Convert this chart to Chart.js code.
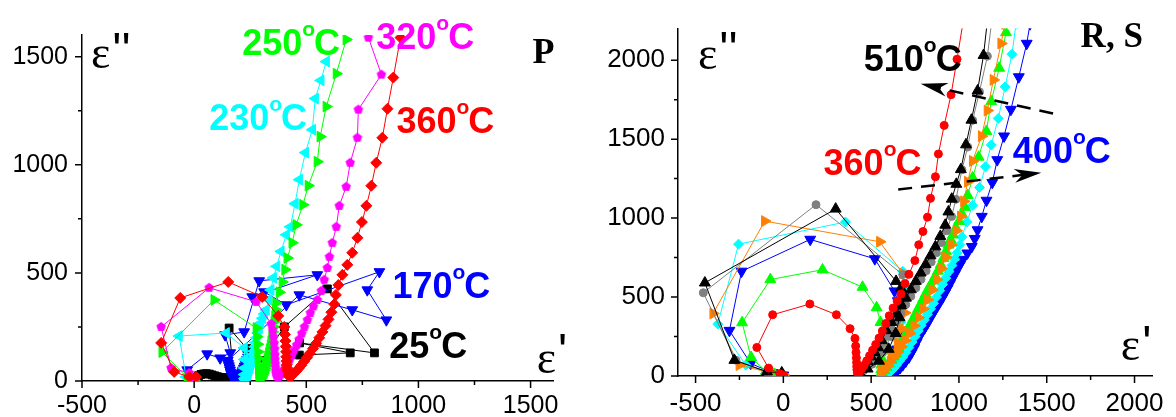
<!DOCTYPE html>
<html>
<head>
<meta charset="utf-8">
<script src="https://cdn.jsdelivr.net/npm/chart.js@4"></script>
<style>
  html, body { margin: 0; padding: 0; background: #fff; }
  #wrap { position: relative; width: 1176px; height: 417px; }
  .panel { position: absolute; top: 0; }
  #left { left: 0; }
  #right { left: 585px; }
</style>
</head>
<body>
<div id="wrap">
  <canvas class="panel" id="left" width="585" height="417"></canvas>
  <canvas class="panel" id="right" width="591" height="417"></canvas>
</div>
<script>
// Panel P: Cole-Cole plots (eps', eps'') at 25..360 C
const p25 = [[2,3],[6,10],[12,18],[20,25],[30,30],[42,33],[55,34],[68,32],[80,28],[92,24],[104,20],[116,17],[128,15],[140,14],[152,15],[164,18],[176,24],[156,245],[235,150],[300,95],[402,250],[594,426],[804,130],[470,176],[696,130],[469,120]];
const p170 = [[0,4],[-31,51],[58,125],[116,106],[161,130],[138,213],[223,227],[290,463],[549,491],[259,389],[312,412],[411,352],[826,505],[772,421],[857,282],[705,329],[469,398],[150,95],[152,80],[155,70],[158,60],[160,50],[163,40],[165,33],[168,26],[170,20],[173,15],[176,10],[180,7],[183,5],[187,5],[190,6],[194,9],[197,12],[201,17],[204,22],[208,28],[211,35],[215,42],[218,50],[222,59],[225,68],[229,78],[232,88],[236,99],[240,110]];
const p230 = [[0,3],[-36,19],[-67,208],[143,222],[223,153],[224,100],[224,60],[224,30],[225,12],[228,6],[231,12],[234,18],[237,27],[241,38],[244,48],[248,60],[251,73],[255,88],[258,103],[262,120],[266,138],[270,158],[274,178],[279,200],[284,222],[290,245],[297,268],[305,290],[313,310],[321,329],[333,375],[342,421],[353,477],[368,530],[387,599],[411,676],[429,713],[450,820],[469,931],[496,1056],[527,1162],[540,1306],[565,1390],[589,1477]];
const p250 = [[0,3],[-30,15],[-143,134],[89,375],[277,245],[280,205],[283,170],[285,135],[286,105],[287,78],[288,55],[289,35],[290,20],[293,10],[296,11],[298,12],[301,19],[305,28],[308,37],[312,48],[315,59],[319,72],[322,85],[326,100],[329,114],[333,130],[336,147],[340,165],[343,184],[347,205],[350,227],[354,250],[357,274],[360,300],[363,330],[365,360],[380,410],[393,458],[405,515],[415,569],[437,639],[455,722],[485,815],[509,903],[549,1014],[562,1130],[589,1269],[634,1421],[678,1579]];
const p320 = [[0,3],[-22,37],[-103,60],[-147,250],[67,431],[277,366],[344,264],[350,235],[354,205],[357,175],[359,148],[360,122],[361,100],[362,80],[363,62],[364,47],[366,35],[368,26],[371,20],[375,19],[380,23],[386,30],[393,40],[400,52],[408,66],[417,82],[426,100],[436,120],[446,142],[457,166],[468,192],[480,220],[492,250],[505,282],[518,315],[532,345],[549,375],[567,417],[580,468],[594,523],[603,574],[616,639],[634,713],[647,810],[678,898],[696,1009],[728,1125],[732,1255],[835,1417],[777,1588]];
const p360 = [[9,19],[-22,19],[-89,42],[-147,176],[-62,384],[152,458],[304,389],[375,301],[402,250],[405,215],[407,185],[409,160],[410,135],[411,112],[412,92],[413,75],[415,60],[417,47],[419,36],[421,27],[424,21],[428,19],[436,25],[445,34],[455,45],[466,58],[478,73],[490,90],[503,108],[516,128],[530,150],[544,174],[558,200],[572,227],[586,256],[599,285],[612,318],[625,355],[632,398],[643,444],[661,491],[683,537],[705,593],[728,662],[748,735],[768,810],[790,903],[812,1009],[839,1125],[862,1259],[888,1403],[920,1588]];

// Panel R, S: 360 C and 400..510 C
const rs360 = [[0,6],[-20,14],[-84,50],[-151,181],[-61,388],[151,456],[302,388],[380,300],[408,238],[412,190],[414,150],[416,115],[417,85],[418,60],[419,40],[421,25],[426,18],[434,26],[446,44],[460,68],[475,96],[491,128],[508,163],[526,200],[545,240],[564,285],[584,333],[603,381],[625,430],[648,475],[670,519],[693,585],[715,644],[749,731],[771,831],[795,915],[821,1006],[838,1125],[866,1262],[883,1406],[916,1587],[955,1781],[989,2006],[1022,2230]];
const rsBlack = [[-9,21],[-93,27],[-279,100],[-447,590],[298,1058],[642,600],[670,556],[668,460],[662,370],[640,270],[600,170],[545,95],[480,45],[432,25],[445,42],[462,66],[480,92],[500,122],[520,150],[540,180],[560,225],[587,288],[615,340],[642,394],[670,445],[698,494],[726,547],[754,600],[782,653],[810,706],[838,762],[866,819],[894,885],[922,956],[940,1040],[959,1121],[985,1215],[1011,1308],[1040,1465],[1071,1621],[1106,1806],[1140,2031],[1160,2230]];
const rsGray = [[0,8],[-95,25],[-270,100],[-456,527],[186,1085],[680,642],[672,550],[662,450],[645,350],[612,250],[565,150],[505,75],[455,32],[445,26],[458,45],[475,70],[495,100],[515,130],[537,165],[560,205],[585,250],[612,300],[640,350],[668,400],[697,452],[726,505],[755,558],[784,612],[813,666],[842,722],[871,780],[900,845],[930,920],[958,1010],[983,1119],[1017,1306],[1050,1450],[1078,1619],[1117,1800],[1162,2025],[1185,2230]];
const rsOrange = [[0,6],[-80,22],[-251,69],[-400,396],[-106,981],[549,850],[680,650],[698,494],[692,400],[675,300],[650,210],[615,130],[580,65],[560,30],[562,22],[575,40],[592,62],[610,90],[630,120],[650,150],[672,185],[695,225],[720,270],[745,318],[770,370],[796,425],[822,483],[848,545],[874,610],[900,680],[926,752],[955,830],[985,920],[1010,1010],[1028,1106],[1050,1230],[1078,1362],[1129,1519],[1162,1681],[1196,1875],[1240,2106],[1262,2230]];
const rsGreen = [[0,5],[-50,12],[-100,30],[-184,119],[-235,338],[-74,611],[223,673],[451,563],[531,433],[553,340],[568,277],[566,220],[563,160],[561,110],[559,70],[558,40],[560,22],[574,36],[587,56],[601,78],[615,100],[628,122],[642,144],[656,175],[670,205],[684,237],[698,269],[712,300],[725,330],[740,362],[754,394],[768,425],[782,455],[796,487],[810,519],[824,547],[838,575],[852,603],[866,631],[880,665],[896,705],[911,745],[926,790],[940,830],[953,862],[966,894],[983,937],[1000,980],[1017,1025],[1034,1069],[1050,1144],[1078,1256],[1112,1387],[1156,1550],[1184,1738],[1229,1950],[1268,2175],[1275,2230]];
const rsCyan = [[0,5],[-60,20],[-214,69],[-373,329],[-255,835],[354,975],[680,663],[690,560],[685,450],[670,340],[650,230],[628,130],[610,55],[600,24],[612,30],[628,48],[645,70],[662,95],[680,120],[697,148],[715,180],[733,215],[750,250],[768,285],[785,320],[803,355],[820,390],[838,425],[855,460],[872,500],[890,540],[907,580],[925,620],[942,660],[960,700],[975,740],[990,780],[1004,830],[1017,881],[1045,975],[1078,1081],[1117,1194],[1151,1325],[1184,1463],[1224,1631],[1263,1831],[1302,2038],[1325,2230]];
const rs400 = [[0,5],[-60,20],[-186,79],[-307,288],[-238,663],[153,865],[521,742],[633,538],[652,475],[661,371],[657,270],[648,170],[640,90],[634,40],[633,24],[648,32],[665,52],[680,70],[697,93],[715,119],[730,148],[745,180],[758,212],[771,244],[788,275],[805,305],[822,337],[838,369],[854,400],[870,430],[888,462],[905,494],[920,525],[935,555],[948,584],[961,613],[976,644],[990,675],[1006,706],[1022,738],[1048,778],[1073,819],[1090,870],[1106,925],[1130,1010],[1157,1112],[1190,1225],[1218,1369],[1257,1519],[1296,1688],[1341,1894],[1386,2106],[1405,2230]];

// tick positions; every second one carries a label
const pXTicks = [-500, -250, 0, 250, 500, 750, 1000, 1250, 1500];
const pYTicks = [0, 250, 500, 750, 1000, 1250, 1500];
const rsXTicks = [-500, -250, 0, 250, 500, 750, 1000, 1250, 1500, 1750, 2000];
const rsYTicks = [0, 250, 500, 750, 1000, 1250, 1500, 1750, 2000];

const RED = '#ff0000', GREEN = '#00ff00', BLUE = '#0000ff', CYAN = '#00ffff',
      MAGENTA = '#ff00ff', ORANGE = '#ff8000', GRAY = '#808080', BLACK = '#000000';
const SANS = '"Liberation Sans", Arial, sans-serif';
const SERIF = '"Liberation Serif", "Times New Roman", serif';

Chart.defaults.font.family = SANS;
Chart.defaults.color = '#000';

function pentagon(color, r) {
    const c = document.createElement('canvas');
    const s = Math.ceil(r * 2 + 2);
    c.width = c.height = s;
    const g = c.getContext('2d');
    g.fillStyle = color;
    g.beginPath();
    for (let i = 0; i < 5; i++) {
        const a = -Math.PI / 2 + i * 2 * Math.PI / 5;
        g.lineTo(s / 2 + r * Math.cos(a), s / 2 + r * Math.sin(a));
    }
    g.closePath();
    g.fill();
    return c;
}

function series(points, color, style, radius, rotation) {
    return {
        data: points.map(([x, y]) => ({ x, y })),
        showLine: true, borderColor: color, backgroundColor: color, borderWidth: 1,
        pointStyle: style, pointRadius: radius, pointRotation: rotation || 0,
        pointBorderWidth: 1, pointBorderColor: color, pointBackgroundColor: color,
    };
}

// outward tick marks, long on labelled values, short in between
const tickMarks = {
    id: 'tickMarks',
    afterDraw(chart) {
        const { ctx, chartArea: a, scales: { x, y } } = chart;
        ctx.save();
        ctx.strokeStyle = '#000';
        ctx.lineWidth = 1.5;
        ctx.beginPath();
        x.ticks.forEach(t => {
            const px = x.getPixelForValue(t.value);
            const len = t.value % 500 ? 4 : 7;
            ctx.moveTo(px, a.bottom); ctx.lineTo(px, a.bottom + len);
        });
        y.ticks.forEach(t => {
            const py = y.getPixelForValue(t.value);
            const len = t.value % 500 ? 4 : 7;
            ctx.moveTo(a.left, py); ctx.lineTo(a.left - len, py);
        });
        ctx.stroke();
        ctx.restore();
    }
};

function drawTemp(ctx, x, y, label, color) {
    ctx.fillStyle = color;
    ctx.font = 'bold 36px ' + SANS;
    ctx.fillText(label, x, y);
    let w = ctx.measureText(label).width;
    ctx.font = 'bold 21px ' + SANS;
    ctx.fillText('o', x + w, y - 19);
    w += ctx.measureText('o').width;
    ctx.font = 'bold 36px ' + SANS;
    ctx.fillText('C', x + w - 1, y);
}

function drawEps(ctx, x, y, primes, lift) {
    ctx.fillStyle = '#000';
    ctx.font = '46px ' + SERIF;
    ctx.fillText('ε', x, y);
    const w = ctx.measureText('ε').width;
    ctx.font = '48px ' + SANS;
    ctx.fillText(primes, x + w + 2, y - lift);
}

function drawArrow(ctx, x0, y0, x1, y1) {
    const ang = Math.atan2(y1 - y0, x1 - x0);
    ctx.save();
    ctx.strokeStyle = '#000';
    ctx.fillStyle = '#000';
    ctx.lineWidth = 2.5;
    ctx.setLineDash([14, 9]);
    ctx.beginPath();
    ctx.moveTo(x0, y0);
    ctx.lineTo(x1 - Math.cos(ang) * 18, y1 - Math.sin(ang) * 18);
    ctx.stroke();
    ctx.setLineDash([]);
    ctx.translate(x1, y1);
    ctx.rotate(ang);
    ctx.beginPath();
    ctx.moveTo(0, 0);
    ctx.lineTo(-27, -7);
    ctx.lineTo(-19, 0);
    ctx.lineTo(-27, 7);
    ctx.closePath();
    ctx.fill();
    ctx.restore();
}

// temperature labels, axis symbols, panel tag and arrows, placed in data units
const notes = {
    id: 'notes',
    afterDatasetsDraw(chart, args, opts) {
        const { ctx, scales: { x, y } } = chart;
        const X = v => x.getPixelForValue(v), Y = v => y.getPixelForValue(v);
        ctx.save();
        ctx.textBaseline = 'alphabetic';
        ctx.textAlign = 'left';
        (opts.arrows || []).forEach(a => drawArrow(ctx, X(a.from[0]), Y(a.from[1]), X(a.to[0]), Y(a.to[1])));
        (opts.temps || []).forEach(t => drawTemp(ctx, X(t.x), Y(t.y), t.text, t.color));
        (opts.eps || []).forEach(e => drawEps(ctx, X(e.x), Y(e.y), e.primes, e.lift));
        if (opts.tag) {
            ctx.fillStyle = '#000';
            ctx.font = 'bold ' + opts.tag.size + 'px ' + SERIF;
            ctx.fillText(opts.tag.text, X(opts.tag.x), Y(opts.tag.y));
        }
        ctx.restore();
    }
};

function options(c) {
    const axis = (min, max, values, pad, fit) => ({
        type: 'linear', min, max,
        border: { display: true, color: '#000', width: 1.5 },
        grid: { display: true, drawOnChartArea: false, drawTicks: false },
        ticks: {
            autoSkip: false, maxRotation: 0,
            padding: pad, color: '#000', font: { size: c.fontSize },
            callback: v => v % 500 === 0 ? String(v) : ''
        },
        afterBuildTicks: s => { s.ticks = values.map(v => ({ value: v })); },
        afterFit: fit
    });
    return {
        responsive: false, animation: false, events: [],
        layout: { padding: c.padding },
        plugins: { legend: { display: false }, tooltip: { enabled: false }, notes: c.notes },
        scales: {
            x: axis(c.x[0], c.x[1], c.xTicks, c.xPad, s => { s.height = c.xh; }),
            y: axis(c.y[0], c.y[1], c.yTicks, c.yPad, s => { s.width = c.yw; })
        }
    };
}

new Chart(document.getElementById('left'), {
    type: 'scatter',
    data: {
        datasets: [
            series(p360, RED, 'rectRot', 5.5),
            series(p320, MAGENTA, pentagon(MAGENTA, 5), 5),
            series(p250, GREEN, 'triangle', 6.2, 90),
            series(p230, CYAN, 'triangle', 6.2, 270),
            series(p170, BLUE, 'triangle', 6.2, 180),
            series(p25, BLACK, 'rect', 5.5),
        ]
    },
    options: options({
        x: [-500, 1600], y: [0, 1600], xTicks: pXTicks, yTicks: pYTicks,
        fontSize: 25, padding: { left: 0, right: 32, top: 35, bottom: 0 },
        xh: 36, yw: 82, xPad: 10, yPad: 14,
        notes: {
            temps: [
                { text: '250', x: 214, y: 1509, color: GREEN },
                { text: '320', x: 812, y: 1533, color: MAGENTA },
                { text: '230', x: 67, y: 1162, color: CYAN },
                { text: '360', x: 902, y: 1148, color: RED },
                { text: '170', x: 884, y: 384, color: BLUE },
                { text: '25', x: 870, y: 106, color: BLACK },
            ],
            eps: [
                { primes: "''", x: -460, y: 1449, lift: 2 },
                { primes: "'", x: 1527, y: 37, lift: 6 },
            ],
            tag: { text: 'P', x: 1509, y: 1472, size: 36 }
        }
    }),
    plugins: [tickMarks, notes]
});

new Chart(document.getElementById('right'), {
    type: 'scatter',
    data: {
        datasets: [
            series(rs360, RED, 'circle', 4),
            series(rsBlack, BLACK, 'triangle', 6.3),
            series(rsGray, GRAY, 'circle', 4),
            series(rsOrange, ORANGE, 'triangle', 6.3, 90),
            series(rsGreen, GREEN, 'triangle', 6.3),
            series(rsCyan, CYAN, 'rectRot', 5),
            series(rs400, BLUE, 'triangle', 6.3, 180),
        ]
    },
    options: options({
        x: [-600, 2100], y: [0, 2200], xTicks: rsXTicks, yTicks: rsYTicks,
        fontSize: 26, padding: { left: 0, right: 15, top: 23, bottom: 0 },
        xh: 41, yw: 93, xPad: 12, yPad: 13,
        notes: {
            arrows: [
                { from: [1536, 1662], to: [782, 1850] },
                { from: [654, 1181], to: [1469, 1287] },
            ],
            temps: [
                { text: '510', x: 458, y: 1931, color: BLACK },
                { text: '360', x: 229, y: 1275, color: RED },
                { text: '400', x: 1307, y: 1350, color: BLUE },
            ],
            eps: [
                { primes: "''", x: -486, y: 1944, lift: 4 },
                { primes: "'", x: 1922, y: 100, lift: 1 },
            ],
            tag: { text: 'R, S', x: 1693, y: 2081, size: 35 }
        }
    }),
    plugins: [tickMarks, notes]
});
</script>
</body>
</html>
